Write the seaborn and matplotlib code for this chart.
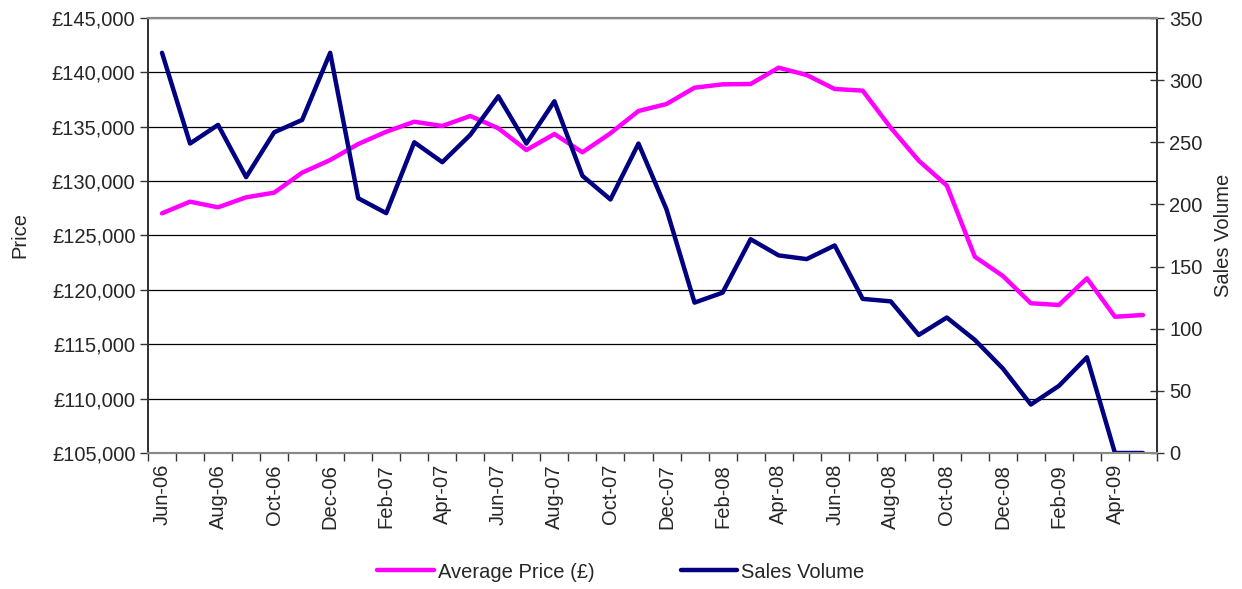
import matplotlib
matplotlib.use("Agg")
import matplotlib.pyplot as plt
from matplotlib.ticker import FixedLocator, FuncFormatter
from matplotlib.lines import Line2D
import numpy as np
import pandas as pd
import seaborn as sns

# === Data ===
months = ["Jun-06", "Jul-06", "Aug-06", "Sep-06", "Oct-06", "Nov-06", "Dec-06",
          "Jan-07", "Feb-07", "Mar-07", "Apr-07", "May-07", "Jun-07", "Jul-07",
          "Aug-07", "Sep-07", "Oct-07", "Nov-07", "Dec-07", "Jan-08", "Feb-08",
          "Mar-08", "Apr-08", "May-08", "Jun-08", "Jul-08", "Aug-08", "Sep-08",
          "Oct-08", "Nov-08", "Dec-08", "Jan-09", "Feb-09", "Mar-09", "Apr-09",
          "May-09"]
avg_price = [127040, 128110, 127590, 128510, 128940, 130780, 131940, 133410,
             134540, 135460, 135070, 135990, 134860, 132860, 134330, 132650,
             134400, 136450, 137090, 138590, 138900, 138930, 140430, 139760,
             138470, 138320, 134910, 131880, 129600, 123050, 121280, 118770,
             118610, 121060, 117530, 117690]
sales_volume = [322, 249, 264, 222, 258, 268, 322, 205, 193, 250, 234, 256,
                287, 249, 283, 223, 204, 249, 196, 121, 129, 172, 159, 156,
                167, 124, 122, 95, 109, 91, 68, 39, 54, 77, 0, 0]

df = pd.DataFrame({"pos": np.arange(len(months)), "month": months,
                   "price": avg_price, "sales": sales_volume})

PINK = "#FF00FF"
NAVY = "#000080"
FS = 14.5

# === Style ===
sns.set_style("white")
plt.rcParams["font.family"] = ["Liberation Sans", "DejaVu Sans"]

fig = plt.figure(figsize=(12.42, 5.89), dpi=100)
ax = fig.add_axes([148 / 1242, 1 - 453 / 589, (1157 - 148) / 1242, (453 - 18) / 589])
ax2 = ax.twinx()

sns.lineplot(data=df, x="pos", y="price", ax=ax, color=PINK, lw=3.2)
sns.lineplot(data=df, x="pos", y="sales", ax=ax2, color=NAVY, lw=3.2)

# left axis
ax.set_ylim(105000, 145000)
ax.set_yticks(np.arange(105000, 145001, 5000))
ax.yaxis.set_major_formatter(FuncFormatter(lambda v, p: f"£{v:,.0f}"))
ax.yaxis.grid(True, color="black", lw=0.9)
ax.set_ylabel("Price", fontsize=FS, labelpad=16)
ax.tick_params(axis="y", direction="out", length=6, width=1, color="#333333",
               labelsize=FS, left=True, pad=3)

# x axis: ticks at category boundaries, labels every other month
ax.set_xlim(-0.5, len(months) - 0.5)
ax.xaxis.set_major_locator(FixedLocator(np.arange(-0.5, len(months), 1.0)))
ax.xaxis.set_major_formatter(FuncFormatter(lambda v, p: ""))
ax.xaxis.set_minor_locator(FixedLocator(df["pos"][::2].tolist()))
ax.set_xticklabels(months[::2], minor=True, rotation=90, fontsize=FS)
ax.tick_params(axis="x", which="major", direction="out", length=6, width=1,
               color="#333333", bottom=True)
ax.tick_params(axis="x", which="minor", length=0, pad=8)
ax.set_xlabel("")

# right axis
ax2.set_ylim(0, 350)
ax2.set_yticks(np.arange(0, 351, 50))
ax2.set_ylabel("Sales Volume", fontsize=FS, labelpad=8)
ax2.tick_params(axis="y", direction="inout", length=10, width=1, color="#333333",
                labelsize=FS, right=True, pad=4)
ax2.grid(False)

for a in (ax, ax2):
    a.spines["top"].set_color("#888888")
    a.spines["top"].set_linewidth(1.5)
    a.spines["bottom"].set_color("#888888")
    a.spines["bottom"].set_linewidth(1.5)
    a.spines["left"].set_color("#333333")
    a.spines["right"].set_color("#333333")
    a.spines["left"].set_linewidth(1.3)
    a.spines["right"].set_linewidth(1.3)

handles = [Line2D([], [], color=PINK, lw=3.2), Line2D([], [], color=NAVY, lw=3.2)]
fig.legend(handles, ["Average Price (£)", "Sales Volume"], loc="center",
           bbox_to_anchor=(0.5, 1 - 572 / 589), ncol=2, frameon=False,
           fontsize=FS, handlelength=2.8, handletextpad=0.2, columnspacing=4.3)

fig.savefig("out.png", dpi=100, facecolor="white")
